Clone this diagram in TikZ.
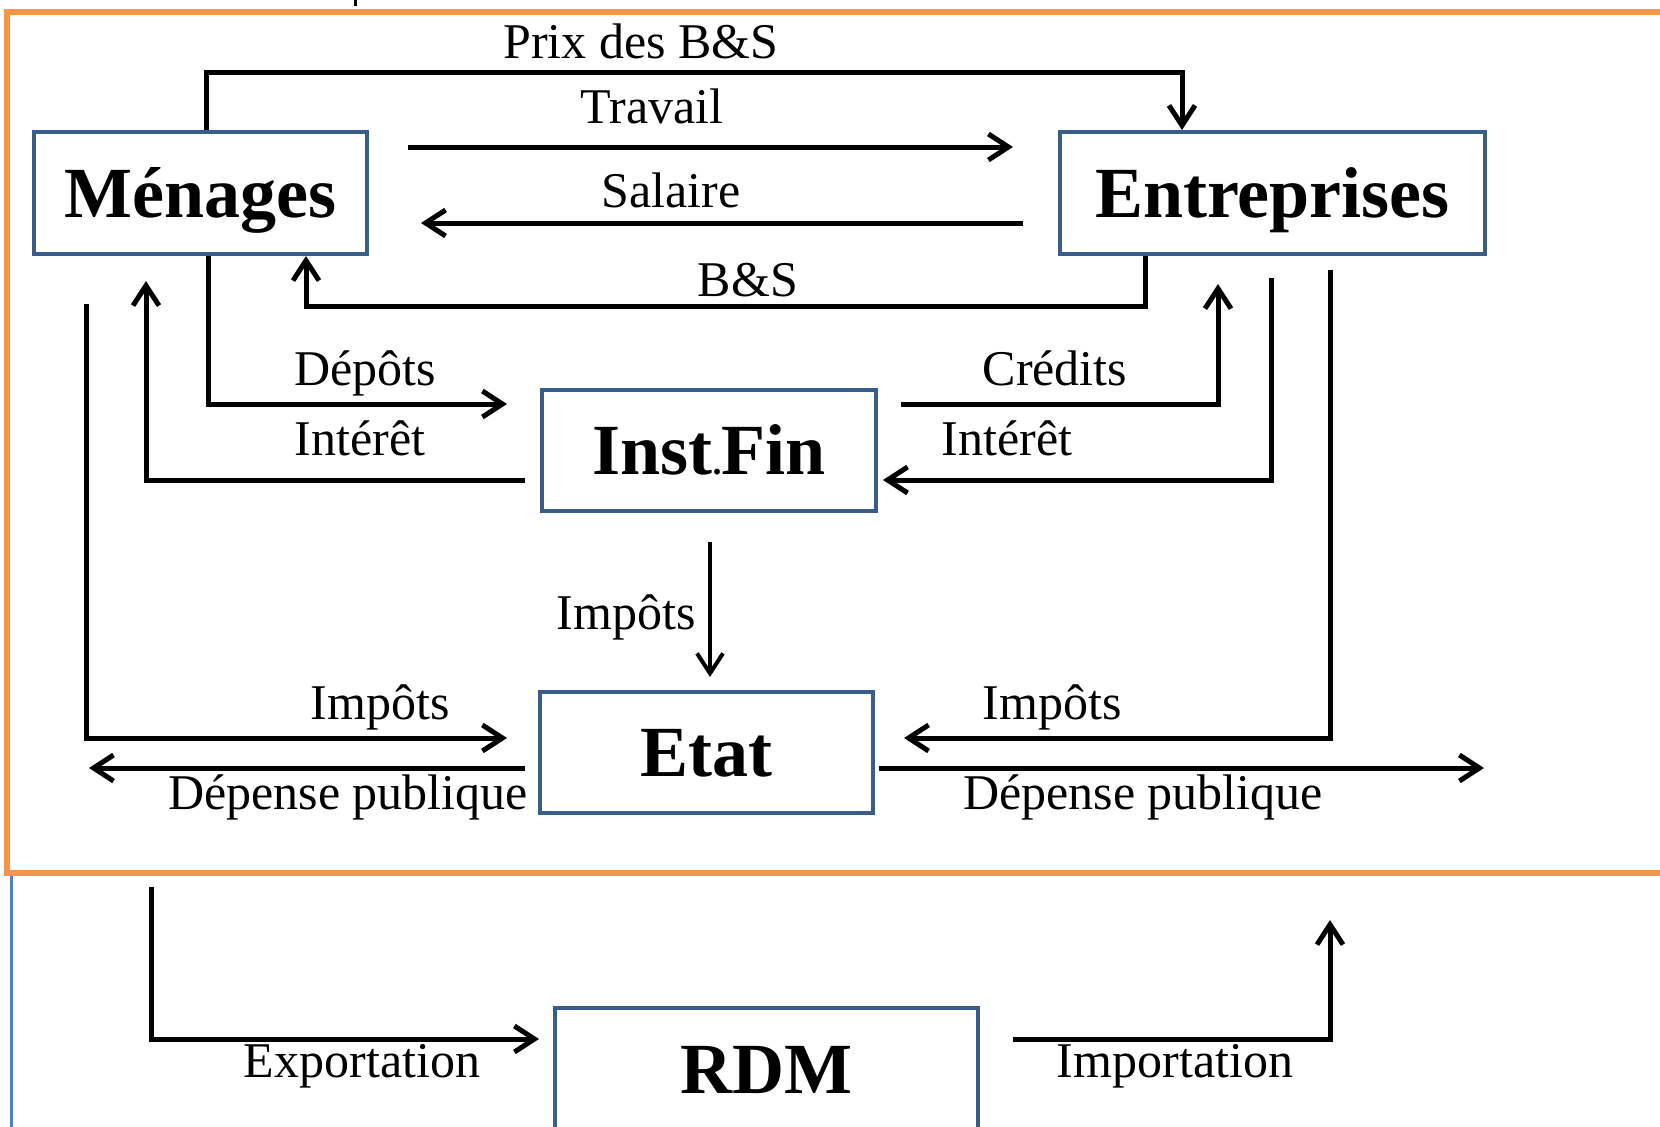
\documentclass[tikz,border=0pt]{standalone}
\usepackage{fontspec}
\setmainfont{Liberation Serif}
\usepackage{tikz}
\usetikzlibrary{arrows.meta, positioning, calc}

\definecolor{boxblue}{RGB}{56,93,138}
\definecolor{frameorange}{RGB}{247,150,70}
\definecolor{lineblue}{RGB}{79,129,189}

\begin{document}
\begin{tikzpicture}[
            x=1pt, y=-1pt,
            sectorbox/.style={
                rectangle, draw=boxblue, line width=4pt, fill=white,
                inner sep=0pt, text height=48pt, text depth=0pt,
                font=\fontsize{72}{80}\selectfont\bfseries
            },
            flowline/.style={
                line width=5pt, -{Straight Barb[length=20pt,width=26pt]}
            },
            flowlabel/.style={
                inner sep=0pt, anchor=base, font=\fontsize{50}{60}\selectfont
            }
        ]
            \useasboundingbox (0,0) rectangle (1660,1127);
            \clip (0,0) rectangle (1660,1127);

            % frames
            \draw[frameorange, line width=6pt] (1680,12) -- (7,12) -- (7,873) -- (1680,873);
            \draw[lineblue, line width=3pt] (11,876) -- (11,1140);
            \draw[line width=3pt] (355,0) -- (355,6);

            % sectors
            \node[sectorbox, minimum width=333pt, minimum height=122pt] (men) at (200.5,193) {Ménages};
            \node[sectorbox, minimum width=425pt, minimum height=122pt] (ent) at (1272.5,193) {Entreprises};
            \node[sectorbox, minimum width=334pt, minimum height=121pt] (inst) at (709,450.5) {Inst{\fontsize{36}{40}\selectfont.}Fin};
            \node[sectorbox, minimum width=333pt, minimum height=121pt] (etat) at (706.5,752.5) {Etat};
            \node[sectorbox, minimum width=423pt, minimum height=122pt] (rdm) at (766.5,1069) {RDM};

            % bend points
            \coordinate (prixA) at (206,72);
            \coordinate (prixB) at (1182,72);
            \coordinate (travA) at (408,147);
            \coordinate (travB) at (1013,147);
            \coordinate (salA) at (1023,223);
            \coordinate (salB) at (421,223);
            \coordinate (bsA) at (1145,306);
            \coordinate (bsB) at (306,306);
            \coordinate (depA) at (208,404);
            \coordinate (depB) at (507,404);
            \coordinate (intA) at (525,480);
            \coordinate (intB) at (146,480);
            \coordinate (intC) at (146,281);
            \coordinate (impA) at (86,304);
            \coordinate (impB) at (86,738);
            \coordinate (impC) at (507,738);
            \coordinate (depuA) at (525,768);
            \coordinate (depuB) at (89,768);
            \coordinate (creA) at (901,404);
            \coordinate (creB) at (1218,404);
            \coordinate (creC) at (1218,284);
            \coordinate (intD) at (1271,278);
            \coordinate (intE) at (1271,480);
            \coordinate (intF) at (883,480);
            \coordinate (impD) at (1330,270);
            \coordinate (impE) at (1330,738);
            \coordinate (impF) at (904,738);
            \coordinate (depuC) at (879,768);
            \coordinate (depuD) at (1484,768);
            \coordinate (impG) at (710,542);
            \coordinate (impH) at (710,677);
            \coordinate (expA) at (151,887);
            \coordinate (expB) at (151,1039);
            \coordinate (expC) at (539,1039);
            \coordinate (impoA) at (1013,1039);
            \coordinate (impoB) at (1330,1039);
            \coordinate (impoC) at (1330,920);

            % flows
            \draw[flowline] (men.north -| prixA) -- (prixA) -- (prixB) -- (ent.north -| prixB);
            \draw[flowline] (travA) -- (travB);
            \draw[flowline] (salA) -- (salB);
            \draw[flowline] (ent.south -| bsA) -- (bsA) -- (bsB) -- (men.south -| bsB);
            \draw[flowline] (men.south -| depA) -- (depA) -- (depB);
            \draw[flowline] (intA) -- (intB) -- (intC);
            \draw[flowline] (impA) -- (impB) -- (impC);
            \draw[flowline] (depuA) -- (depuB);
            \draw[flowline] (creA) -- (creB) -- (creC);
            \draw[flowline] (intD) -- (intE) -- (intF);
            \draw[flowline] (impD) -- (impE) -- (impF);
            \draw[flowline] (depuC) -- (depuD);
            \draw[flowline, line width=4pt] (impG) -- (impH);
            \draw[flowline] (expA) -- (expB) -- (expC);
            \draw[flowline] (impoA) -- (impoB) -- (impoC);

            % labels
            \node[flowlabel] (lprix) at (641,58) {Prix des B\&S};
            \node[flowlabel] (ltrav) at (652,123) {Travail};
            \node[flowlabel] (lsal) at (671,207) {Salaire};
            \node[flowlabel] (lbs) at (748,296) {B\&S};
            \node[flowlabel] (ldep) at (365,385) {Dépôts};
            \node[flowlabel] (lintg) at (360,455) {Intérêt};
            \node[flowlabel] (limpg) at (380,719) {Impôts};
            \node[flowlabel, anchor=base east] (ldepug) at (528,809) {Dépense publique};
            \node[flowlabel] (lcre) at (1055,385) {Crédits};
            \node[flowlabel] (lintd) at (1007,455) {Intérêt};
            \node[flowlabel] (limpd) at (1052,719) {Impôts};
            \node[flowlabel] (ldepud) at (1143,809) {Dépense publique};
            \node[flowlabel, anchor=base east] (limpc) at (696,629) {Impôts};
            \node[flowlabel] (lexp) at (362,1077) {Exportation};
            \node[flowlabel] (limpo) at (1175,1077) {Importation};
        \end{tikzpicture}
\end{document}
